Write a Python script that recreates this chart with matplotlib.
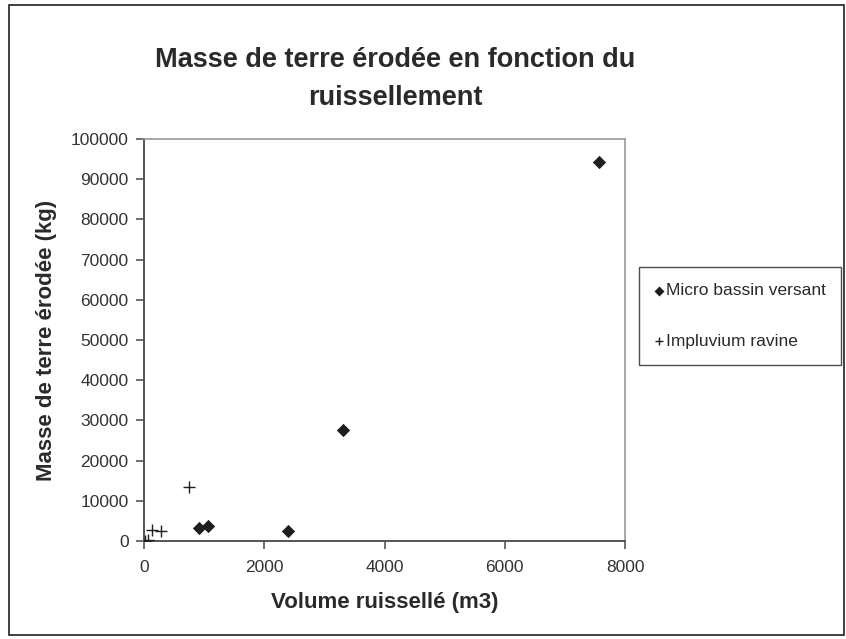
import matplotlib
matplotlib.use("Agg")
import matplotlib.pyplot as plt
from matplotlib.patches import Rectangle

plt.rcParams['font.family'] = ['Liberation Sans', 'DejaVu Sans']

# Micro bassin versant
mbv_volume = [920, 1064, 2388, 3313, 7568]
mbv_masse = [3130, 3800, 2490, 27510, 94180]

# Impluvium ravine
imp_volume = [20, 67, 133, 283, 753]
imp_masse = [100, 150, 2810, 2490, 13500]

x_ticks = [0, 2000, 4000, 6000, 8000]
y_ticks = list(range(0, 100001, 10000))

W, H = 846, 639
fig = plt.figure(figsize=(W / 100, H / 100), dpi=100)
fig.patch.set_facecolor('white')

# cadre autour du graphique
fig.patches.append(Rectangle((9 / W, 4 / H), 835 / W, 630 / H,
                             transform=fig.transFigure, fill=False,
                             edgecolor='#202020', linewidth=1.2))

ax = fig.add_axes([144 / W, (H - 541) / H, 481 / W, 402 / H])

dark = '#1e1e1e'
ax.scatter(mbv_volume, mbv_masse, marker='D', s=46, color=dark,
           linewidths=0, label='Micro bassin versant', zorder=3)
ax.scatter(imp_volume, imp_masse, marker='+', s=64, color=dark,
           linewidths=1.0, label='Impluvium ravine', zorder=3)

ax.set_xlim(0, 8000)
ax.set_ylim(0, 100000)
ax.set_xticks(x_ticks)
ax.set_yticks(y_ticks)

for side in ['top', 'right']:
    ax.spines[side].set_color('#9a9a9a')
    ax.spines[side].set_linewidth(1.2)
for side in ['left', 'bottom']:
    ax.spines[side].set_color('#555555')
    ax.spines[side].set_linewidth(1.4)

ax.tick_params(axis='both', direction='out', length=6, width=1.2,
               color='#555555', labelsize=12.5, labelcolor='#333333')
ax.tick_params(axis='x', pad=8)
ax.tick_params(axis='y', pad=5)

ax.set_xlabel('Volume ruissellé (m3)', fontsize=16, fontweight='bold',
              color='#2a2a2a', labelpad=12)
ax.set_ylabel('Masse de terre érodée (kg)', fontsize=16, fontweight='bold',
              color='#2a2a2a', labelpad=10)

fig.text(395 / W, 1 - 60 / H, 'Masse de terre érodée en fonction du',
         ha='center', va='center', fontsize=19.5, fontweight='bold',
         color='#2a2a2a')
fig.text(395 / W, 1 - 98 / H, 'ruissellement',
         ha='center', va='center', fontsize=19.5, fontweight='bold',
         color='#2a2a2a')

leg = fig.legend(loc='center left', bbox_to_anchor=(639 / W, 1 - 316 / H),
                 borderaxespad=0, frameon=True, fancybox=False, fontsize=12.5,
                 labelspacing=2.05, handletextpad=0.15, handlelength=0.5,
                 borderpad=0.9, markerscale=0.75, labelcolor='#2a2a2a')
leg.get_frame().set_edgecolor('#202020')
leg.get_frame().set_linewidth(1.0)

fig.savefig('out.png', dpi=100, facecolor='white')
